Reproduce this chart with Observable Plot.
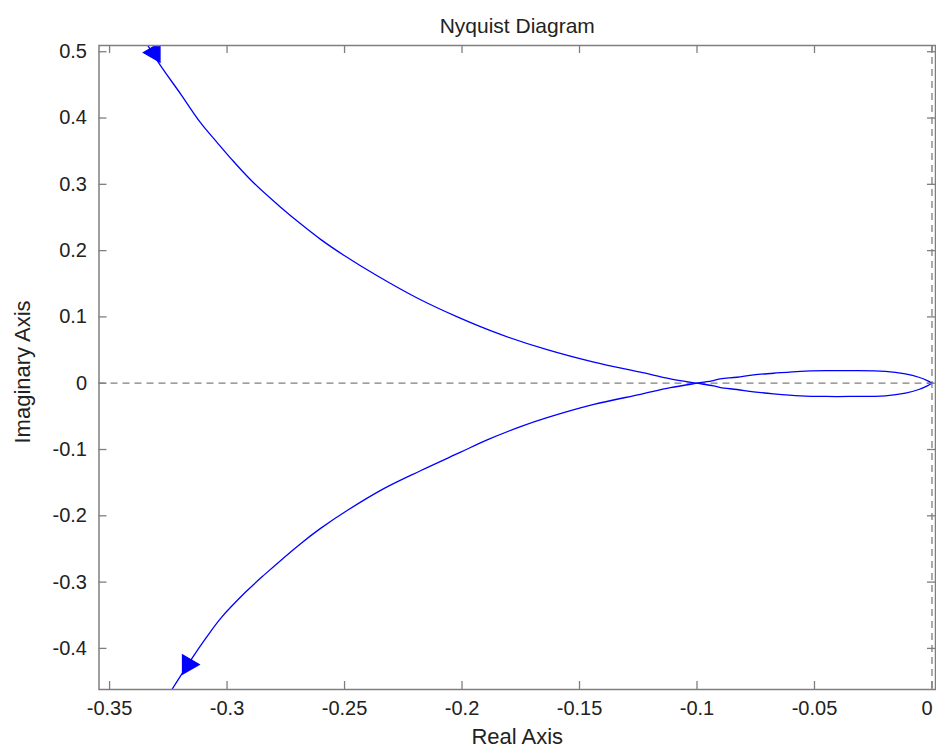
<!DOCTYPE html>
<html>
<head>
<meta charset="utf-8">
<script src="https://cdn.jsdelivr.net/npm/d3@7"></script>
<script src="https://cdn.jsdelivr.net/npm/@observablehq/plot@0.6"></script>
<style>
  html, body { margin: 0; padding: 0; background: #fff; }
  #chart svg { display: block; }
</style>
</head>
<body>
<div id="chart"></div>
<script>
const titleText = "Nyquist Diagram";
const xLabel = "Real Axis";
const yLabel = "Imaginary Axis";

const xTicks = [-0.35, -0.3, -0.25, -0.2, -0.15, -0.1, -0.05, 0];
const yTicks = [-0.4, -0.3, -0.2, -0.1, 0, 0.1, 0.2, 0.3, 0.4, 0.5];

// branch for negative frequencies (upper branch, then lower half of loop)
const upperRe = [-0.3338, -0.3283, -0.3198, -0.3113, -0.3042, -0.2971, -0.2886, -0.2772, -0.2687, -0.2602, -0.2503, -0.2361, -0.2191, -0.2020, -0.1836, -0.1638, -0.1439, -0.1241, -0.1113, -0.1000, -0.0930, -0.0900, -0.0830, -0.0759, -0.0674, -0.0560, -0.0450, -0.0350, -0.0198, -0.0113, -0.0056, -0.0020, 0];
const upperIm = [0.510, 0.479, 0.4365, 0.393, 0.363, 0.334, 0.302, 0.2655, 0.2404, 0.217, 0.193, 0.162, 0.1285, 0.100, 0.0735, 0.0505, 0.0317, 0.0166, 0.0066, 0, -0.004, -0.0066, -0.0095, -0.013, -0.016, -0.019, -0.020, -0.020, -0.019, -0.015, -0.0095, -0.004, 0];

// branch for positive frequencies (lower branch, then upper half of loop)
const lowerRe = [-0.3240, -0.3155, -0.3091, -0.3028, -0.2921, -0.2843, -0.2687, -0.2602, -0.2489, -0.2333, -0.2177, -0.2006, -0.1893, -0.1751, -0.1638, -0.1439, -0.1241, -0.1113, -0.1000, -0.0930, -0.0900, -0.0830, -0.0759, -0.0674, -0.0560, -0.0450, -0.0350, -0.0198, -0.0113, -0.0056, -0.0020, 0];
const lowerIm = [-0.465, -0.418, -0.385, -0.355, -0.315, -0.2895, -0.242, -0.219, -0.192, -0.159, -0.132, -0.104, -0.0855, -0.0655, -0.052, -0.032, -0.0168, -0.0068, 0, 0.004, 0.0066, 0.009, 0.0126, 0.015, 0.018, 0.019, 0.019, 0.018, 0.014, 0.009, 0.004, 0];

const arrowUpRe = [-0.3309], arrowUpIm = [0.4988];
const arrowDnRe = [-0.3166], arrowDnIm = [-0.4243];

const upper = upperRe.map((x, i) => ({x, y: upperIm[i]}));
const lower = lowerRe.map((x, i) => ({x, y: lowerIm[i]}));
const arrowUp = arrowUpRe.map((x, i) => ({x, y: arrowUpIm[i]}));
const arrowDn = arrowDnRe.map((x, i) => ({x, y: arrowDnIm[i]}));

const W = 936, H = 755;
const mL = 98.5, mR = 1, mT = 45, mB = 66;
const plotW = W - mL - mR, plotH = H - mT - mB;
const tick = 8;
const axisColor = "#7f7f7f";
const textColor = "#222";
const font = "Liberation Sans, Arial, sans-serif";
const fmt = d => String(d);

const chart = Plot.plot({
  width: W,
  height: H,
  marginLeft: mL,
  marginRight: mR,
  marginTop: mT,
  marginBottom: mB,
  style: {fontFamily: font, fontSize: "20px", color: textColor, background: "#fff"},
  x: {domain: [-0.3545, 0.0015]},
  y: {domain: [-0.462, 0.5094]},
  marks: [
    Plot.ruleY([0], {stroke: axisColor, strokeWidth: 1.3, strokeDasharray: "7,5"}),
    Plot.ruleX([0], {stroke: axisColor, strokeWidth: 1.3, strokeDasharray: "7,5"}),
    Plot.line(upper, {x: "x", y: "y", stroke: "#0000ff", strokeWidth: 1.3, curve: "catmull-rom", clip: true}),
    Plot.line(lower, {x: "x", y: "y", stroke: "#0000ff", strokeWidth: 1.3, curve: "catmull-rom", clip: true}),
    Plot.dot(arrowUp, {x: "x", y: "y", symbol: "triangle", r: 7, fill: "#0000ff", stroke: "#0000ff", rotate: -90, clip: true}),
    Plot.dot(arrowDn, {x: "x", y: "y", symbol: "triangle", r: 7, fill: "#0000ff", stroke: "#0000ff", rotate: 90, clip: true}),
    Plot.ruleX(xTicks, {x: d => d, insetTop: plotH - tick, stroke: axisColor, strokeWidth: 1.3}),
    Plot.ruleX(xTicks, {x: d => d, insetBottom: plotH - tick, stroke: axisColor, strokeWidth: 1.3}),
    Plot.ruleY(yTicks, {y: d => d, insetRight: plotW - tick, stroke: axisColor, strokeWidth: 1.3}),
    Plot.ruleY(yTicks, {y: d => d, insetLeft: plotW - tick, stroke: axisColor, strokeWidth: 1.3}),
    Plot.frame({stroke: axisColor, strokeWidth: 1.5}),
    Plot.axisX({ticks: xTicks.filter(d => d !== 0), tickFormat: fmt, tickSize: 0, tickPadding: 11, label: null, fontSize: 20, fill: textColor}),
    Plot.axisX({ticks: xTicks.filter(d => d === 0), tickFormat: fmt, tickSize: 0, tickPadding: 11, label: null, fontSize: 20, fill: textColor, dx: -5}),
    Plot.axisY({ticks: yTicks, tickFormat: fmt, tickSize: 0, tickPadding: 12, label: null, fontSize: 20, fill: textColor}),
    Plot.text([titleText], {frameAnchor: "top", dy: -27, fontSize: 21, fill: textColor}),
    Plot.text([xLabel], {frameAnchor: "bottom", dy: 54, fontSize: 22, fill: textColor}),
    Plot.text([yLabel], {frameAnchor: "left", dx: -76.5, dy: 4.5, rotate: -90, textAnchor: "middle", fontSize: 22, fill: textColor})
  ]
});
document.getElementById("chart").appendChild(chart);
</script>
</body>
</html>
